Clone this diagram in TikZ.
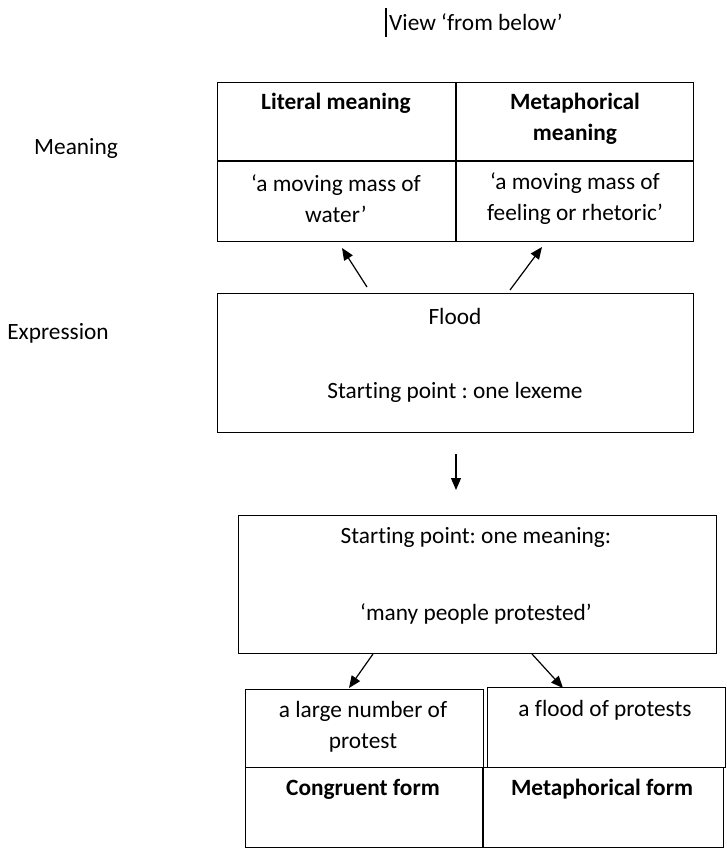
\documentclass[tikz,border=0pt]{standalone}
\usepackage{fontspec}
\setmainfont[Ligatures=NoCommon]{Carlito}
\usetikzlibrary{arrows.meta}
\frenchspacing
\begin{document}
\begin{tikzpicture}[x=0.75pt,y=-0.75pt,
  box/.style={draw=black, line width=0.9pt, inner sep=0pt, anchor=north west},
  txt/.style={inner sep=0pt, align=center, font=\fontsize{17.5pt}{23.25pt}\selectfont},
  btxt/.style={txt, font=\fontsize{17.5pt}{23.25pt}\selectfont\bfseries},
  arr/.style={line width=0.9pt, -{Triangle[length=9pt,width=7.5pt]}}]
\useasboundingbox (0,0) rectangle (727,850);
% title and caret
\node[txt] (title) at (476,22) {View ‘from below’};
\draw[line width=1.6pt] (386,8) -- (386,37);
% side labels
\node[txt] (lmeaning) at (76,148) {Meaning};
\node[txt] (lexpr) at (58,333) {Expression};
% top table
\node[box, minimum width=357pt, minimum height=119.25pt] (toptab) at (217,82) {};
\draw[line width=0.9pt] (456,82) -- (456,241);
\draw[line width=0.9pt] (217,161) -- (693,161);
\node[btxt] (lit) at (336,103) {Literal meaning};
\node[btxt] (met) at (575,119) {Metaphorical\\meaning};
\node[txt] (litd) at (336,199) {‘a moving mass of\\water’};
\node[txt] (metd) at (575,199) {‘a moving mass of\\feeling or rhetoric’};
% flood box
\node[box, minimum width=357pt, minimum height=104.25pt] (flood) at (217,293) {};
\node[txt] (floodt) at (455,316) {Flood};
\node[txt] (lexeme) at (455,392) {Starting point : one lexeme};
% arrows up
\coordinate (u1s) at (367,287);
\coordinate (u1e) at (342,248);
\coordinate (u2s) at (510,290);
\coordinate (u2e) at (542,247);
\draw[arr] (u1s) -- (u1e);
\draw[arr] (u2s) -- (u2e);
% down arrow
\coordinate (ds) at (456,454);
\coordinate (de) at (456,490);
\draw[arr] (ds) -- (de);
% box 2
\node[box, minimum width=358.5pt, minimum height=103.5pt] (mean) at (238,515) {};
\node[txt] (meant) at (476,537) {Starting point: one meaning:};
\node[txt] (meanq) at (476,614) {‘many people protested’};
% arrows down
\coordinate (d1s) at (373,654);
\coordinate (d1e) at (349,688);
\coordinate (d2s) at (532,654);
\coordinate (d2e) at (563,688);
\draw[arr] (d1s) -- (d1e);
\draw[arr] (d2s) -- (d2e);
% bottom cells
\node[box, minimum width=178.5pt, minimum height=58.5pt] (cong) at (245,689) {};
\node[box, minimum width=178.5pt, minimum height=60pt] (metf) at (487,687) {};
\node[box, minimum width=358.5pt, minimum height=60pt] (forms) at (245,767) {};
\draw[line width=0.9pt] (483,767) -- (483,847);
\node[txt] (congt) at (363,727) {a large number of\\protest};
\node[txt] (metft) at (605,710) {a flood of protests};
\node[btxt] (congl) at (363,789) {Congruent form};
\node[btxt] (metfl) at (602,789) {Metaphorical form};
\end{tikzpicture}
\end{document}
